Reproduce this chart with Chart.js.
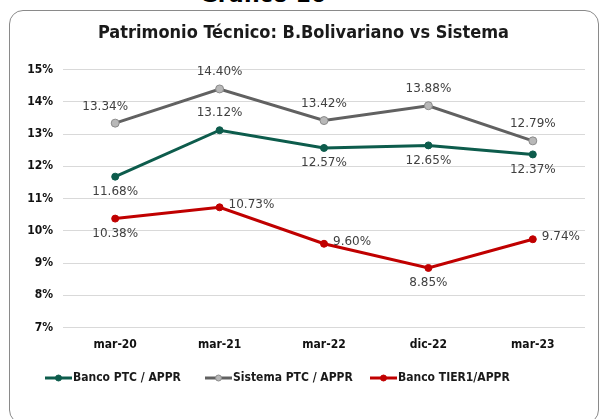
<!DOCTYPE html>
<html>
<head>
<meta charset="utf-8">
<script src="https://cdn.jsdelivr.net/npm/chart.js@4"></script>
<style>
  body { margin: 0; background: #fff; }
  #wrap { position: relative; width: 600px; height: 419px; overflow: hidden; }
  #frame { position: absolute; left: 9px; top: 10px; width: 590px; height: 414px;
           border: 1.5px solid #8a8a8a; border-radius: 14px; box-sizing: border-box; }
  #top { position: absolute; left: 0; width: 526px; top: -18px; text-align: center;
         font: bold 22px "DejaVu Sans", sans-serif; color: #000; }
  canvas { position: absolute; left: 0; top: 0; }
</style>
</head>
<body>
<div id="wrap">
  <div id="top">Gráfico 10</div>
  <div id="frame"></div>
  <canvas id="c" width="600" height="419"></canvas>
</div>
<script>
// ----- data -----
var periods = ['mar-20', 'mar-21', 'mar-22', 'dic-22', 'mar-23'];
var bancoPTC = [11.68, 13.12, 12.57, 12.65, 12.37];
var sistemaPTC = [13.34, 14.40, 13.42, 13.88, 12.79];
var bancoTier1 = [10.38, 10.73, 9.60, 8.85, 9.74];

// where each value label sits relative to its point
var bancoPos = ['below', 'above', 'below', 'below', 'below'];
var sistemaPos = ['aboveleft', 'above', 'above', 'above', 'above'];
var tierPos = ['below', 'right', 'right', 'below', 'right'];

var green = '#0d5c4c', grey = '#616161', red = '#c00000';
var fam = '"DejaVu Sans Condensed", "DejaVu Sans", sans-serif';

var valueLabels = {
  id: 'valueLabels',
  afterDatasetsDraw: function (chart) {
    var ctx = chart.ctx;
    ctx.save();
    ctx.font = '12px "DejaVu Sans", sans-serif';
    ctx.fillStyle = '#404040';
    ctx.textBaseline = 'middle';
    chart.data.datasets.forEach(function (ds, i) {
      var meta = chart.getDatasetMeta(i);
      meta.data.forEach(function (pt, j) {
        var txt = ds.data[j].toFixed(2) + '%';
        var p = ds.labelPos[j];
        var x = pt.x, y = pt.y;
        ctx.textAlign = 'center';
        if (p === 'above') y -= 17;
        else if (p === 'below') y += 15;
        else if (p === 'aboveleft') { y -= 16; x -= 10; }
        else if (p === 'right') { ctx.textAlign = 'left'; x += 9; y -= 2; }
        ctx.fillText(txt, x, y);
      });
    });
    ctx.restore();
  }
};

var lineLegend = {
  id: 'lineLegend',
  afterDraw: function (chart) {
    var ctx = chart.ctx;
    var starts = [45, 205, 370];
    var y = 378;
    ctx.save();
    ctx.font = 'bold 12px ' + fam;
    ctx.textBaseline = 'middle';
    ctx.textAlign = 'left';
    chart.data.datasets.forEach(function (ds, i) {
      var x0 = starts[i];
      ctx.strokeStyle = ds.borderColor;
      ctx.lineWidth = 3;
      ctx.beginPath();
      ctx.moveTo(x0, y);
      ctx.lineTo(x0 + 27, y);
      ctx.stroke();
      ctx.beginPath();
      ctx.arc(x0 + 13.5, y, 3, 0, Math.PI * 2);
      ctx.fillStyle = ds.pointBackgroundColor;
      ctx.fill();
      ctx.lineWidth = 1;
      ctx.strokeStyle = ds.pointBorderColor;
      ctx.stroke();
      ctx.fillStyle = '#1a1a1a';
      ctx.fillText(ds.label, x0 + 28, y);
    });
    ctx.restore();
  }
};

new Chart(document.getElementById('c'), {
  type: 'line',
  data: {
    labels: periods,
    datasets: [{
      label: 'Banco PTC / APPR',
      data: bancoPTC,
      labelPos: bancoPos,
      borderColor: green,
      pointBackgroundColor: green,
      pointBorderColor: green,
      borderWidth: 3,
      pointRadius: 3.5,
      pointBorderWidth: 1
    }, {
      label: 'Sistema PTC / APPR',
      data: sistemaPTC,
      labelPos: sistemaPos,
      borderColor: grey,
      pointBackgroundColor: '#b8b8b8',
      pointBorderColor: '#8a8a8a',
      borderWidth: 3,
      pointRadius: 4,
      pointBorderWidth: 1
    }, {
      label: 'Banco TIER1/APPR',
      data: bancoTier1,
      labelPos: tierPos,
      borderColor: red,
      pointBackgroundColor: red,
      pointBorderColor: red,
      borderWidth: 3,
      pointRadius: 3.5,
      pointBorderWidth: 1
    }]
  },
  options: {
    responsive: false,
    animation: false,
    layout: { padding: { left: 22, right: 15, top: 12, bottom: 65 } },
    plugins: {
      legend: { display: false },
      tooltip: { enabled: false },
      title: {
        display: true,
        text: 'Patrimonio Técnico: B.Bolivariano vs Sistema',
        color: '#1a1a1a',
        font: { family: fam, size: 18, weight: 'bold' },
        padding: { top: 11, bottom: 25 }
      }
    },
    scales: {
      x: {
        offset: true,
        grid: { display: false },
        border: { display: false },
        ticks: { color: '#111', font: { family: fam, size: 12, weight: 'bold' }, padding: 2 }
      },
      y: {
        min: 7,
        max: 15,
        ticks: {
          stepSize: 1,
          color: '#111',
          padding: 10,
          font: { family: fam, size: 12, weight: 'bold' },
          callback: function (v) { return v + '%'; }
        },
        afterFit: function (scale) { scale.width = 41; },
        grid: { color: '#d9d9d9', drawTicks: false },
        border: { display: false }
      }
    }
  },
  plugins: [valueLabels, lineLegend]
});
</script>
</body>
</html>
